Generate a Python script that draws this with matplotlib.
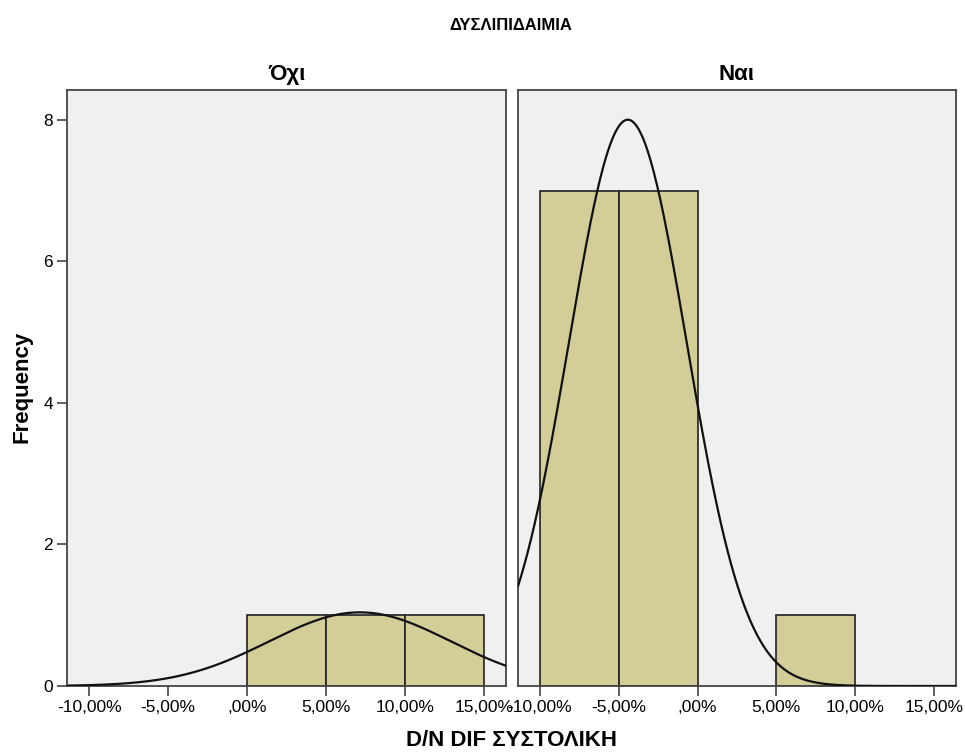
import numpy as np
import matplotlib
matplotlib.use("Agg")
import matplotlib.pyplot as plt

plt.rcParams["font.family"] = ["Liberation Sans", "DejaVu Sans"]

# histogram data (bin left edges in %, counts)
panels = ["Όχι", "Ναι"]
bin_edges = [-10, -5, 0, 5, 10, 15]
counts_oxi = [0, 0, 1, 1, 1]
counts_nai = [7, 7, 0, 1, 0]
# fitted normal curves (mean, sd, N)
curve_mean = [7.15, -4.43]
curve_sd = [5.75, 3.74]
curve_n = [3, 15]
xticks = [-10, -5, 0, 5, 10, 15]
yticks = [0, 2, 4, 6, 8]

bar_color = "#d3ce97"
bg = "#f0f0f0"
edge = "#444444"

fig = plt.figure(figsize=(9.65, 7.56), dpi=100)
ax1 = fig.add_axes([67 / 965, 1 - 686 / 756, 439 / 965, 596 / 756])
ax2 = fig.add_axes([518 / 965, 1 - 686 / 756, 438 / 965, 596 / 756])


def fmt(v):
    s = f"{v:.2f}".replace(".", ",")
    if s.startswith("0"):
        s = s[1:]
    return s + "%"


width = bin_edges[1] - bin_edges[0]
for i, (ax, counts) in enumerate(zip([ax1, ax2], [counts_oxi, counts_nai])):
    ax.set_facecolor(bg)
    for left, c in zip(bin_edges[:-1], counts):
        if c > 0:
            ax.bar(left, c, width=width, align="edge", color=bar_color,
                   edgecolor="#222222", linewidth=1.2, zorder=2)
    xs = np.linspace(-11.4, 16.4, 400)
    pdf = np.exp(-(xs - curve_mean[i]) ** 2 / (2 * curve_sd[i] ** 2)) / (curve_sd[i] * np.sqrt(2 * np.pi))
    ax.plot(xs, curve_n[i] * width * pdf, color="#111111", lw=1.6, zorder=3)
    ax.set_xlim(-11.4, 16.4)
    ax.set_ylim(0, 8.42)
    ax.set_xticks(xticks)
    ax.set_xticklabels([fmt(v) for v in xticks], fontsize=12.5)
    ax.tick_params(axis="x", direction="out", length=7, width=1.2, color=edge, pad=3)
    for sp in ax.spines.values():
        sp.set_color(edge)
        sp.set_linewidth(1.3)
    ax.set_title(panels[i], fontsize=16, fontweight="bold", pad=7)

ax1.set_yticks(yticks)
ax1.set_yticklabels([str(v) for v in yticks], fontsize=12.5)
ax1.tick_params(axis="y", direction="out", length=7, width=1.2, color=edge, pad=3)
ax2.set_yticks([])

fig.text(511 / 965, 1 - 25 / 756, "ΔΥΣΛΙΠΙΔΑΙΜΙΑ", ha="center", va="center",
         fontsize=12, fontweight="bold")
fig.text(511 / 965, 1 - 741 / 756, "D/N DIF ΣΥΣΤΟΛΙΚΗ", ha="center", va="center",
         fontsize=16, fontweight="bold")
fig.text(22 / 965, 1 - 387 / 756, "Frequency", ha="center", va="center",
         rotation=90, fontsize=16, fontweight="bold")

fig.savefig("out.png", dpi=100, facecolor="white")
